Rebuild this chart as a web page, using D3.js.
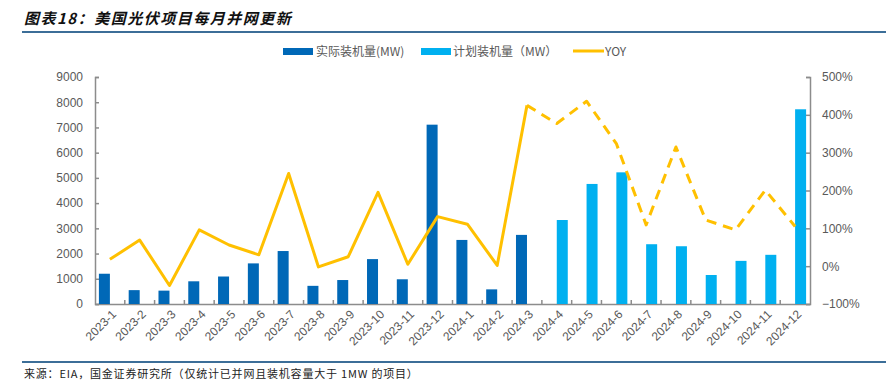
<!DOCTYPE html>
<html lang="zh">
<head>
    <meta charset="UTF-8" />
    <title>美国光伏项目每月并网更新</title>
    <script src="https://d3js.org/d3.v7.min.js"></script>
    <style>
        body {
            margin: 0;
            background: #fff;
            font-family: "Noto Sans CJK SC", "Noto Sans", sans-serif;
        }
        .tick text {
            fill: #595959;
            font-size: 12px;
        }
        .axis path, .axis line {
            stroke: #8c8c8c;
            stroke-width: 1.5;
        }
    </style>
</head>
<body>
    <script>
        // 月份
        const months = ['2023-1', '2023-2', '2023-3', '2023-4', '2023-5', '2023-6', '2023-7', '2023-8',
            '2023-9', '2023-10', '2023-11', '2023-12', '2024-1', '2024-2', '2024-3', '2024-4',
            '2024-5', '2024-6', '2024-7', '2024-8', '2024-9', '2024-10', '2024-11', '2024-12'];

        // 实际装机量(MW)
        const actual = [1200, 550, 530, 900, 1090, 1610, 2100, 720, 950, 1780, 980, 7110,
            2540, 580, 2740, null, null, null, null, null, null, null, null, null];

        // 计划装机量(MW)
        const planned = [null, null, null, null, null, null, null, null, null, null, null, null,
            null, null, null, 3330, 4760, 5220, 2370, 2290, 1150, 1710, 1950, 7720];

        // YOY
        const yoy = [0.18, 0.69, -0.51, 0.96, 0.56, 0.30, 2.45, -0.02, 0.25, 1.95, 0.05, 1.31,
            1.11, 0.02, 4.25, 3.77, 4.36, 3.24, 1.09, 3.15, 1.22, 0.96, 2.01, 1.05];

        const leftTicks = [0, 1000, 2000, 3000, 4000, 5000, 6000, 7000, 8000, 9000];
        const rightTicks = [-1, 0, 1, 2, 3, 4, 5];
        const lastSolid = 14; // 2024-3 之后为虚线

        const W = 886, H = 391;
        const plotL = 95, plotR = 810, plotT = 77, plotB = 304;

        const svg = d3.select('body').append('svg').attr('width', W).attr('height', H);

        // 标题
        svg.append('text')
            .attr('x', 24).attr('y', 24)
            .attr('font-size', 15).attr('font-weight', 'bold').attr('font-style', 'italic')
            .attr('letter-spacing', 1.5)
            .attr('fill', '#111')
            .text('图表18：美国光伏项目每月并网更新');

        svg.append('line').attr('x1', 22).attr('x2', W).attr('y1', 32).attr('y2', 32)
            .attr('stroke', '#3c6e98').attr('stroke-width', 2);
        svg.append('line').attr('x1', 22).attr('x2', W).attr('y1', 362).attr('y2', 362)
            .attr('stroke', '#3c6e98').attr('stroke-width', 2);

        svg.append('text')
            .attr('x', 24).attr('y', 378)
            .attr('font-size', 11).attr('letter-spacing', 0.8)
            .attr('fill', '#222')
            .text('来源：EIA，国金证券研究所（仅统计已并网且装机容量大于 1MW 的项目）');

        // 比例尺
        const x = d3.scaleBand().domain(months).range([plotL, plotR]).padding(0);
        const y = d3.scaleLinear().domain([0, 9000]).range([plotB, plotT]);
        const y2 = d3.scaleLinear().domain([-1, 5]).range([plotB, plotT]);
        const barW = 11;

        // 坐标轴
        const gx = svg.append('g').attr('class', 'axis').attr('transform', `translate(0,${plotB})`)
            .call(d3.axisBottom(x).tickSize(0).tickSizeOuter(0));
        gx.selectAll('.tick text')
            .attr('text-anchor', 'end')
            .attr('transform', 'translate(2,6) rotate(-45)')
            .attr('dy', '0.35em')
            .attr('font-size', 11.5);
        // 类别分隔刻度
        gx.selectAll('.sep')
            .data(months.slice(1))
            .enter()
            .append('line')
            .attr('x1', (d) => x(d)).attr('x2', (d) => x(d))
            .attr('y1', 0).attr('y2', -4)
            .attr('stroke', '#8c8c8c').attr('stroke-width', 1.5);

        svg.append('g').attr('class', 'axis').attr('transform', `translate(${plotL},0)`)
            .call(d3.axisLeft(y).tickValues(leftTicks).tickSize(-4).tickSizeOuter(-4).tickPadding(12)
                .tickFormat(d3.format('d')));

        svg.append('g').attr('class', 'axis').attr('transform', `translate(${plotR},0)`)
            .call(d3.axisRight(y2).tickValues(rightTicks).tickSize(-4).tickSizeOuter(-4).tickPadding(12)
                .tickFormat(d3.format('.0%')));

        // 柱子
        svg.append('g').selectAll('rect')
            .data(months.map((m, i) => ({ m, v: actual[i] })).filter((d) => d.v != null))
            .enter()
            .append('rect')
            .attr('x', (d) => x(d.m) + x.bandwidth() / 2 - barW)
            .attr('y', (d) => y(d.v))
            .attr('width', barW)
            .attr('height', (d) => plotB - y(d.v))
            .attr('fill', '#0068b7');

        svg.append('g').selectAll('rect')
            .data(months.map((m, i) => ({ m, v: planned[i] })).filter((d) => d.v != null))
            .enter()
            .append('rect')
            .attr('x', (d) => x(d.m) + x.bandwidth() / 2)
            .attr('y', (d) => y(d.v))
            .attr('width', barW)
            .attr('height', (d) => plotB - y(d.v))
            .attr('fill', '#00b0f0');

        // YOY 折线
        const line = d3.line()
            .x((d) => x(d.m) + x.bandwidth() / 2)
            .y((d) => y2(d.v));
        const pts = months.map((m, i) => ({ m, v: yoy[i] }));

        svg.append('path')
            .datum(pts.slice(0, lastSolid + 1))
            .attr('d', line)
            .attr('fill', 'none')
            .attr('stroke', '#ffc000')
            .attr('stroke-width', 3)
            .attr('stroke-linejoin', 'round');

        svg.append('path')
            .datum(pts.slice(lastSolid))
            .attr('d', line)
            .attr('fill', 'none')
            .attr('stroke', '#ffc000')
            .attr('stroke-width', 3)
            .attr('stroke-dasharray', '10,7')
            .attr('stroke-linejoin', 'round');

        // 图例
        const legend = svg.append('g').attr('font-size', 12).attr('fill', '#595959');
        legend.append('rect').attr('x', 283).attr('y', 48).attr('width', 30).attr('height', 7).attr('fill', '#0068b7');
        legend.append('text').attr('x', 316).attr('y', 56).text('实际装机量(MW)');
        legend.append('rect').attr('x', 421).attr('y', 48).attr('width', 30).attr('height', 7).attr('fill', '#00b0f0');
        legend.append('text').attr('x', 453).attr('y', 56).text('计划装机量（MW）');
        legend.append('line').attr('x1', 573).attr('x2', 604).attr('y1', 51).attr('y2', 51)
            .attr('stroke', '#ffc000').attr('stroke-width', 3);
        legend.append('text').attr('x', 605).attr('y', 56).text('YOY');
    </script>
</body>
</html>
